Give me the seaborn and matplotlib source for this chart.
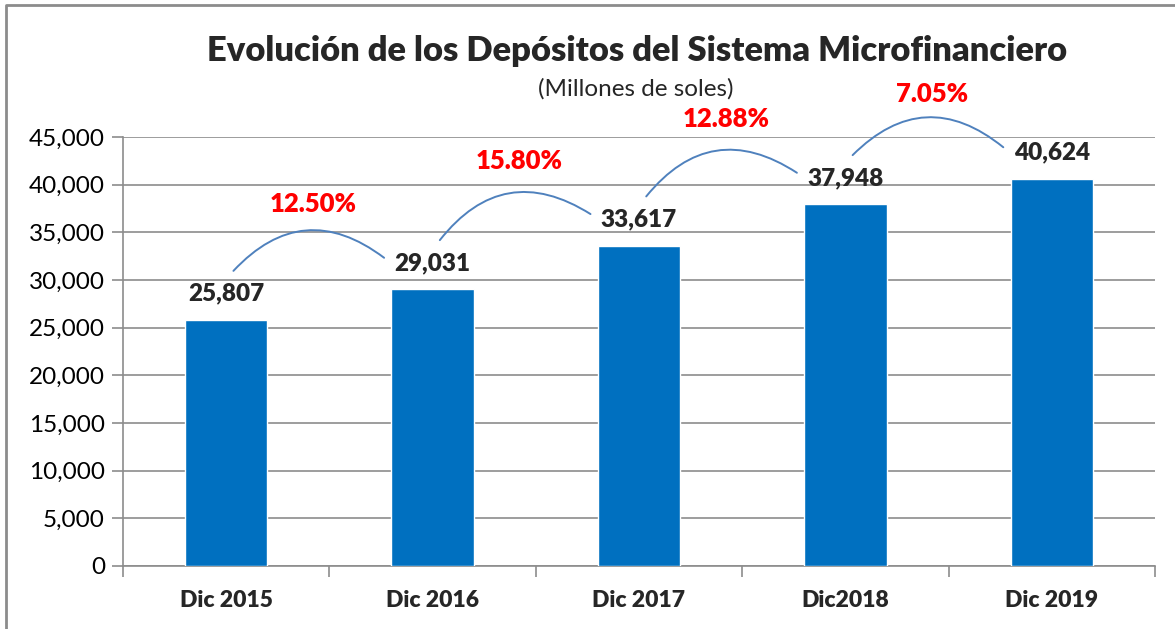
import matplotlib
matplotlib.use("Agg")
import matplotlib.pyplot as plt
import matplotlib.ticker as mticker
from matplotlib.lines import Line2D
import pandas as pd
import seaborn as sns

# Data
periods = ["Dic 2015", "Dic 2016", "Dic 2017", "Dic2018", "Dic 2019"]
deposits = [25807, 29031, 33617, 37948, 40624]
growth_pct = [12.50, 15.80, 12.88, 7.05]

df = pd.DataFrame({"period": periods, "deposits": deposits})

sns.set_style("white")
plt.rcParams["font.family"] = ["Lato", "DejaVu Sans"]

fig = plt.figure(figsize=(11.75, 6.29), dpi=100)
ax = fig.add_axes([123 / 1175, 63 / 629, 1032 / 1175, 429 / 629])

gray = "#8c8c8c"
sns.barplot(data=df, x="period", y="deposits", color="#0070C0", width=0.4,
            saturation=1, ax=ax, zorder=3)

ax.set_ylim(0, 45000)
ax.set_xlim(-0.5, len(periods) - 0.5)
ax.yaxis.set_major_locator(mticker.MultipleLocator(5000))
ax.yaxis.set_major_formatter(mticker.FuncFormatter(lambda v, p: f"{int(v):,}"))
ax.grid(axis="y", color=gray, lw=1.2, zorder=0)
ax.set_axisbelow(True)
ax.set_xlabel("")
ax.set_ylabel("")

for s in ["top", "right"]:
    ax.spines[s].set_visible(False)
for s in ["left", "bottom"]:
    ax.spines[s].set_color(gray)
    ax.spines[s].set_linewidth(1.2)

ax.tick_params(axis="y", length=8, width=1.2, color=gray, labelsize=17.5, pad=5,
               left=True, labelcolor="black")
ax.tick_params(axis="x", which="major", length=0, labelsize=16.5, pad=17)
ax.set_xticks([i - 0.5 for i in range(len(periods) + 1)], minor=True)
ax.tick_params(axis="x", which="minor", length=8, width=1.2, color=gray, bottom=True)
for lbl in ax.get_xticklabels():
    lbl.set_fontweight("heavy")

# value labels
for i, v in enumerate(deposits):
    ax.annotate(f"{v:,}", (i, v), xytext=(0, 19), textcoords="offset points",
                ha="center", va="center", fontsize=17.5, fontweight="heavy")

# growth arcs and percentages
for i, g in enumerate(growth_pct):
    ax.annotate("", xy=(i + 0.765, deposits[i + 1] + 3300),
                xytext=(i + 0.035, deposits[i] + 5150),
                arrowprops=dict(arrowstyle="-", color="#4F81BD", lw=1.4,
                                shrinkA=0, shrinkB=0,
                                connectionstyle="arc3,rad=-0.45"),
                annotation_clip=False)
    ax.text(i + 0.42, deposits[i + 1] + 8900, f"{g:.2f}%", ha="center", va="center",
            fontsize=18.5, fontweight="heavy", color="red", clip_on=False)

fig.text(637 / 1175, 1 - 51 / 629, "Evolución de los Depósitos del Sistema Microfinanciero",
         ha="center", va="center", fontsize=24.8, fontweight="heavy")
fig.text(636 / 1175, 1 - 89 / 629, "(Millones de soles)", ha="center", va="center",
         fontsize=17.5)

# chart border (top and left visible)
fig.add_artist(Line2D([6 / 1175, 6 / 1175, 1.0], [0, 1 - 5 / 629, 1 - 5 / 629],
                      transform=fig.transFigure, color=gray, lw=2))

fig.savefig("out.png", dpi=100)
